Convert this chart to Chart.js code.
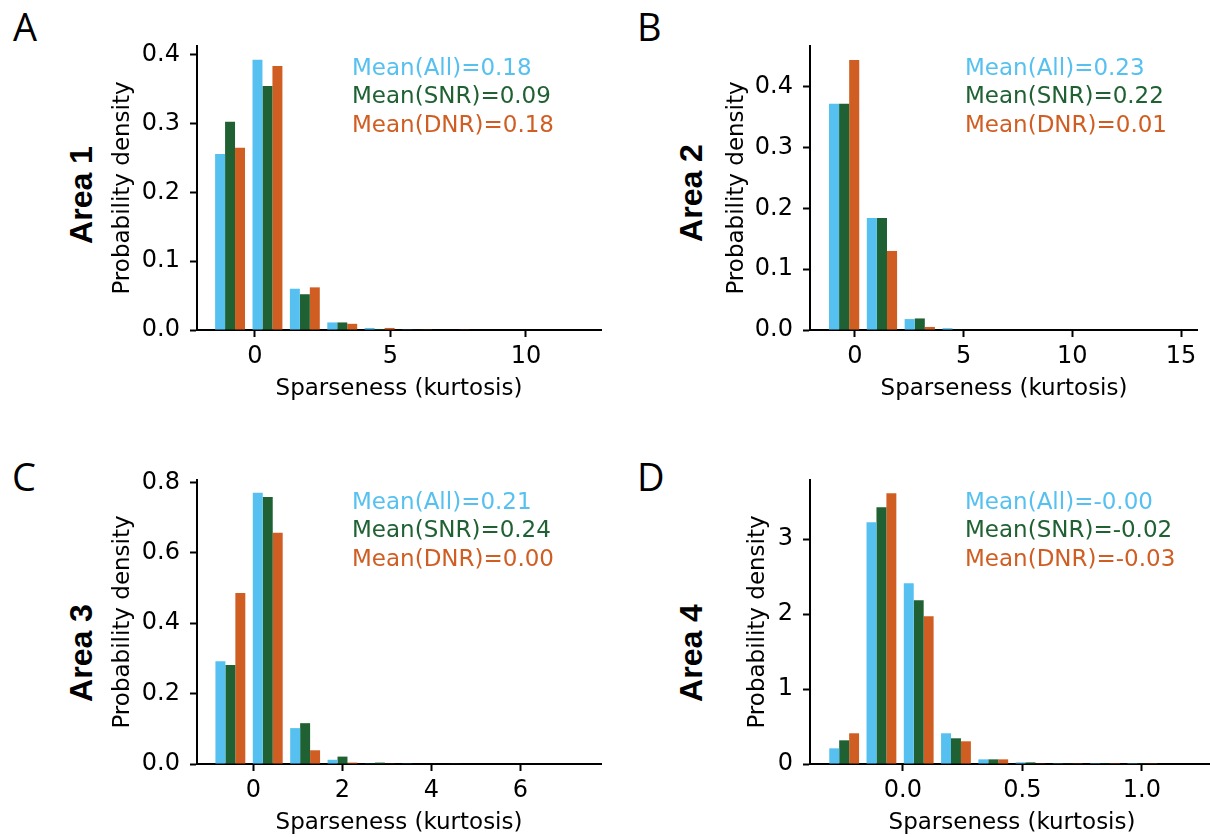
<!DOCTYPE html>
<html>
<head>
<meta charset="utf-8">
<script src="https://cdn.jsdelivr.net/npm/chart.js@4.4.0/dist/chart.umd.min.js"></script>
<style>
  html, body { margin: 0; padding: 0; background: #fff; overflow: hidden; }
  body { width: 1210px; height: 837px; position: relative; }
  canvas { position: absolute; }
  .letter { position: absolute; font-family: "Open Sans", sans-serif; font-size: 38px; line-height: 38px; color: #000; }
  .area { position: absolute; font-family: "Liberation Sans", Arial, sans-serif; font-weight: bold; font-size: 32px;
          line-height: 32px; white-space: nowrap; color: #000; transform: translate(-50%, -50%) rotate(-90deg); }
</style>
</head>
<body>
<div class="letter" style="left:13px;top:7px">A</div>
<div class="letter" style="left:637px;top:7px">B</div>
<div class="letter" style="left:12px;top:457px">C</div>
<div class="letter" style="left:637px;top:457px">D</div>
<div class="area" style="left:81px;top:195px">Area 1</div>
<div class="area" style="left:691px;top:193px">Area 2</div>
<div class="area" style="left:81px;top:653px">Area 3</div>
<div class="area" style="left:691px;top:653px">Area 4</div>
<canvas id="chartA"></canvas>
<canvas id="chartB"></canvas>
<canvas id="chartC"></canvas>
<canvas id="chartD"></canvas>
<script>
// Sparseness histograms: All / SNR / DNR per area
const blue = "#56c1f0", green = "#1f6132", orange = "#d05e23";
const colors = [blue, green, orange];
const seriesNames = ["All", "SNR", "DNR"];

// Area 1
const binsA = [-0.92, 0.46, 1.84, 3.22, 4.60, 5.98, 7.36, 8.74, 10.12, 11.50];
const allA = [0.256, 0.393, 0.060, 0.011, 0.003, 0.001, 0, 0, 0, 0];
const snrA = [0.303, 0.355, 0.052, 0.011, 0.0015, 0.001, 0, 0, 0, 0];
const dnrA = [0.265, 0.384, 0.062, 0.009, 0.003, 0.001, 0.0005, 0, 0, 0];
const meanA = ["0.18", "0.09", "0.18"];
const xTicksA = ["0", "5", "10"];
const yTicksA = ["0.0", "0.1", "0.2", "0.3", "0.4"];

// Area 2
const binsB = [-0.50, 1.24, 2.98, 4.72, 6.46, 8.20, 9.94, 11.68, 13.42, 15.16];
const allB = [0.372, 0.184, 0.018, 0.003, 0, 0, 0, 0, 0, 0];
const snrB = [0.372, 0.184, 0.019, 0.001, 0, 0, 0, 0, 0, 0];
const dnrB = [0.444, 0.130, 0.005, 0, 0, 0, 0, 0, 0, 0];
const meanB = ["0.23", "0.22", "0.01"];
const xTicksB = ["0", "5", "10", "15"];
const yTicksB = ["0.0", "0.1", "0.2", "0.3", "0.4"];

// Area 3
const binsC = [-0.52, 0.32, 1.16, 2.00, 2.84, 3.68, 4.52, 5.36, 6.20, 7.04];
const allC = [0.292, 0.771, 0.102, 0.012, 0.001, 0.001, 0, 0, 0, 0];
const snrC = [0.281, 0.759, 0.116, 0.021, 0.004, 0, 0.001, 0, 0, 0];
const dnrC = [0.486, 0.657, 0.039, 0.004, 0.001, 0, 0, 0, 0, 0];
const meanC = ["0.21", "0.24", "0.00"];
const xTicksC = ["0", "2", "4", "6"];
const yTicksC = ["0.0", "0.2", "0.4", "0.6", "0.8"];

// Area 4
const binsD = [-0.246, -0.090, 0.066, 0.222, 0.378, 0.534, 0.690, 0.846, 1.002, 1.158];
const allD = [0.209, 3.227, 2.412, 0.410, 0.062, 0.022, 0.003, 0.002, 0.002, 0];
const snrD = [0.316, 3.427, 2.185, 0.343, 0.062, 0.022, 0.003, 0.002, 0.002, 0];
const dnrD = [0.410, 3.614, 1.972, 0.303, 0.062, 0.004, 0.003, 0.002, 0.003, 0];
const meanD = ["-0.00", "-0.02", "-0.03"];
const xTicksD = ["0.0", "0.5", "1.0"];
const yTicksD = ["0", "1", "2", "3"];

const tickFont = { family: "'DejaVu Sans'", size: 24 };
const titleFont = { family: "'DejaVu Sans'", size: 23 };

const meanText = {
  id: "meanText",
  afterDatasetsDraw(chart, args, opts) {
    const { ctx, chartArea } = chart;
    ctx.save();
    ctx.font = "23px 'DejaVu Sans'";
    ctx.textBaseline = "middle";
    ctx.textAlign = "left";
    opts.values.forEach((v, i) => {
      ctx.fillStyle = colors[i];
      ctx.fillText("Mean(" + seriesNames[i] + ")=" + v, chartArea.left + 155, chartArea.top + 23 + i * 28.3);
    });
    ctx.restore();
  }
};

function axisStyle(ticks, pad) {
  return {
    grid: { display: true, drawOnChartArea: false, drawTicks: true, offset: false,
            tickLength: 7, tickWidth: 2, tickColor: "#000" },
    border: { display: true, color: "#000", width: 2 },
    ticks: { font: tickFont, color: "#000", padding: pad, autoSkip: false, maxRotation: 0,
             callback: (v, i) => ticks[i] },
    afterBuildTicks: s => { s.ticks = ticks.map(t => ({ value: parseFloat(t) })); }
  };
}

// no extra label overflow padding, so the plot area sits where the layout says
function noPad(s) {
  s.paddingTop = 0; s.paddingBottom = 0; s.paddingLeft = 0; s.paddingRight = 0;
}

function panel(id, box, p) {
  const canvas = document.getElementById(id);
  canvas.width = box.w;
  canvas.height = box.h;
  canvas.style.left = box.l + "px";
  canvas.style.top = box.t + "px";

  const x = axisStyle(p.xTicks, 5);
  Object.assign(x, {
    type: "linear", offset: false, min: p.xMin, max: p.xMax,
    afterFit: s => { s.height = 75; noPad(s); },
    title: { display: true, text: "Sparseness (kurtosis)", font: titleFont, color: "#000", padding: { top: 0, bottom: 2 } }
  });
  const y = axisStyle(p.yTicks, 10);
  Object.assign(y, {
    type: "linear", min: 0, max: p.yMax,
    afterFit: s => { s.width = box.wy; noPad(s); },
    title: { display: true, text: "Probability density", font: titleFont, color: "#000", padding: { top: 9, bottom: 0 } }
  });

  new Chart(canvas, {
    type: "bar",
    data: {
      labels: p.bins,
      datasets: [
        { label: "All", data: p.all, backgroundColor: blue },
        { label: "SNR", data: p.snr, backgroundColor: green },
        { label: "DNR", data: p.dnr, backgroundColor: orange }
      ]
    },
    options: {
      responsive: false,
      animation: false,
      layout: { padding: { left: 0, top: 10, right: box.pr, bottom: 0 } },
      datasets: { bar: { categoryPercentage: 0.8, barPercentage: 1.0, borderWidth: 0 } },
      plugins: {
        legend: { display: false },
        tooltip: { enabled: false },
        meanText: { values: p.mean }
      },
      scales: { x, y }
    },
    plugins: [meanText]
  });
}

panel("chartA", { l: 100, t: 36, w: 510, h: 369, wy: 97, pr: 9 },
  { bins: binsA, all: allA, snr: snrA, dnr: dnrA, mean: meanA, xTicks: xTicksA, yTicks: yTicksA,
    xMin: -2.14, xMax: 12.77, yMax: 0.413 });
panel("chartB", { l: 714, t: 36, w: 484, h: 369, wy: 96, pr: 0 },
  { bins: binsB, all: allB, snr: snrB, dnr: dnrB, mean: meanB, xTicks: xTicksB, yTicks: yTicksB,
    xMin: -2.07, xMax: 15.78, yMax: 0.467 });
panel("chartC", { l: 100, t: 470, w: 510, h: 369, wy: 97, pr: 9 },
  { bins: binsC, all: allC, snr: snrC, dnr: dnrC, mean: meanC, xTicks: xTicksC, yTicks: yTicksC,
    xMin: -1.27, xMax: 7.81, yMax: 0.807 });
panel("chartD", { l: 735, t: 470, w: 479, h: 369, wy: 75, pr: 0 },
  { bins: binsD, all: allD, snr: snrD, dnr: dnrD, mean: meanD, xTicks: xTicksD, yTicks: yTicksD,
    xMin: -0.389, xMax: 1.302, yMax: 3.79 });
</script>
</body>
</html>
